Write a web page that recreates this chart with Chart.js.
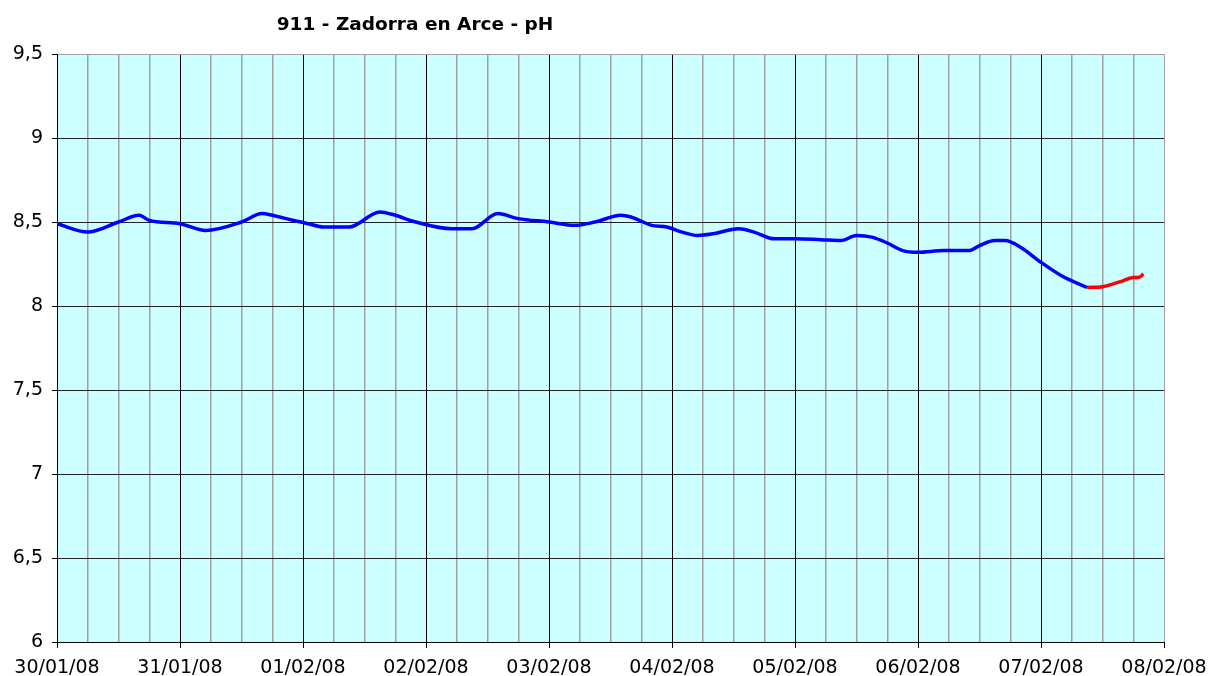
<!DOCTYPE html>
<html>
<head>
<meta charset="utf-8">
<script src="https://cdn.jsdelivr.net/npm/chart.js@4.4.1/dist/chart.umd.min.js"></script>
<style>
  body { margin: 0; background: #fff; }
</style>
</head>
<body>
<canvas id="chart" width="1208" height="676"></canvas>
<script>
'use strict';

const chartTitle = '911 - Zadorra en Arce - pH'
const dayLabels = ['30/01/08', '31/01/08', '01/02/08', '02/02/08', '03/02/08', '04/02/08', '05/02/08', '06/02/08', '07/02/08', '08/02/08']

// hours since 30/01/08 00:00
const hoursValid = [0, 6, 12, 16, 18, 24, 29, 36, 40, 42, 46, 49, 52, 57, 63, 66, 70, 77, 81, 86, 90, 96, 101, 105, 110, 112, 116, 119, 122, 125, 128, 133, 136, 140, 144, 149, 153, 156, 159, 162, 165, 168, 173, 178, 180, 183, 185, 188, 192, 196, 201]
const phValid = [8.49, 8.44, 8.50, 8.54, 8.51, 8.49, 8.45, 8.50, 8.55, 8.54, 8.51, 8.49, 8.47, 8.47, 8.56, 8.54, 8.50, 8.46, 8.46, 8.55, 8.52, 8.50, 8.48, 8.50, 8.54, 8.53, 8.48, 8.47, 8.44, 8.42, 8.43, 8.46, 8.44, 8.40, 8.40, 8.395, 8.39, 8.42, 8.41, 8.375, 8.33, 8.32, 8.33, 8.33, 8.36, 8.39, 8.39, 8.35, 8.26, 8.18, 8.11]

const hoursProvisional = [201, 204, 206, 208, 210, 211, 212]
const phProvisional = [8.11, 8.115, 8.13, 8.15, 8.17, 8.17, 8.19]

const yMin = 6, yMax = 9.5, yStep = 0.5
const xMax = 216, xStep = 6

const toPoints = (xs, ys) => xs.map((x, i) => ({ x: x, y: ys[i] }))

const plotBackground = {
    id: 'plotBackground',
    beforeDraw(chart) {
        const { ctx, chartArea: a } = chart
        ctx.save()
        ctx.fillStyle = '#ccffff'
        ctx.fillRect(a.left, a.top, a.right - a.left, a.bottom - a.top)
        ctx.restore()
    }
}

const titleText = {
    id: 'titleText',
    afterDraw(chart) {
        const ctx = chart.ctx
        ctx.save()
        ctx.font = 'bold 18.5px "DejaVu Sans"'
        ctx.fillStyle = '#000'
        ctx.textAlign = 'center'
        ctx.textBaseline = 'alphabetic'
        ctx.fillText(chartTitle, 415, 30)
        ctx.restore()
    }
}

const ctx = document.getElementById('chart').getContext('2d')
const chart = new Chart(ctx, {
    type: 'line',
    data: {
        datasets: [{
            data: toPoints(hoursValid, phValid),
            borderColor: '#0000ff',
            borderWidth: 3.5,
            pointRadius: 0,
            cubicInterpolationMode: 'monotone'
        },
        {
            data: toPoints(hoursProvisional, phProvisional),
            borderColor: '#ff0000',
            borderWidth: 3.5,
            pointRadius: 0,
            cubicInterpolationMode: 'monotone'
        }]
    },
    options: {
        responsive: false,
        animation: false,
        layout: { padding: { top: 54, right: 44, left: 0, bottom: 0 } },
        plugins: {
            legend: { display: false },
            tooltip: { enabled: false },
            title: { display: false }
        },
        scales: {
            x: {
                type: 'linear',
                min: 0,
                max: xMax,
                afterFit: (s) => { s.height = 34; s.paddingLeft = 0; s.paddingRight = 0 },
                border: { color: '#000', width: 1 },
                grid: {
                    color: (c) => c.tick.value % 24 === 0 && c.tick.value !== xMax ? '#000' : '#a0a0a0',
                    lineWidth: (c) => c.tick.value % 24 === 0 ? 1 : 1.5,
                    tickColor: (c) => c.tick.value % 24 === 0 ? '#000' : 'rgba(0,0,0,0)',
                    tickLength: 6
                },
                ticks: {
                    stepSize: xStep,
                    autoSkip: false,
                    maxRotation: 0,
                    padding: 9,
                    color: '#000',
                    font: { family: 'DejaVu Sans', size: 19 },
                    callback: (v) => v % 24 === 0 ? dayLabels[v / 24] : ''
                }
            },
            y: {
                min: yMin,
                max: yMax,
                afterFit: (s) => { s.width = 57 },
                border: { color: '#000', width: 1 },
                grid: {
                    color: (c) => c.tick.value === yMax ? '#a0a0a0' : '#222',
                    tickColor: '#000',
                    tickLength: 5,
                    lineWidth: 1
                },
                ticks: {
                    stepSize: yStep,
                    padding: 9,
                    color: '#000',
                    font: { family: 'DejaVu Sans', size: 19 },
                    callback: (v) => String(v).replace('.', ',')
                }
            }
        }
    },
    plugins: [plotBackground, titleText]
})
</script>
</body>
</html>
